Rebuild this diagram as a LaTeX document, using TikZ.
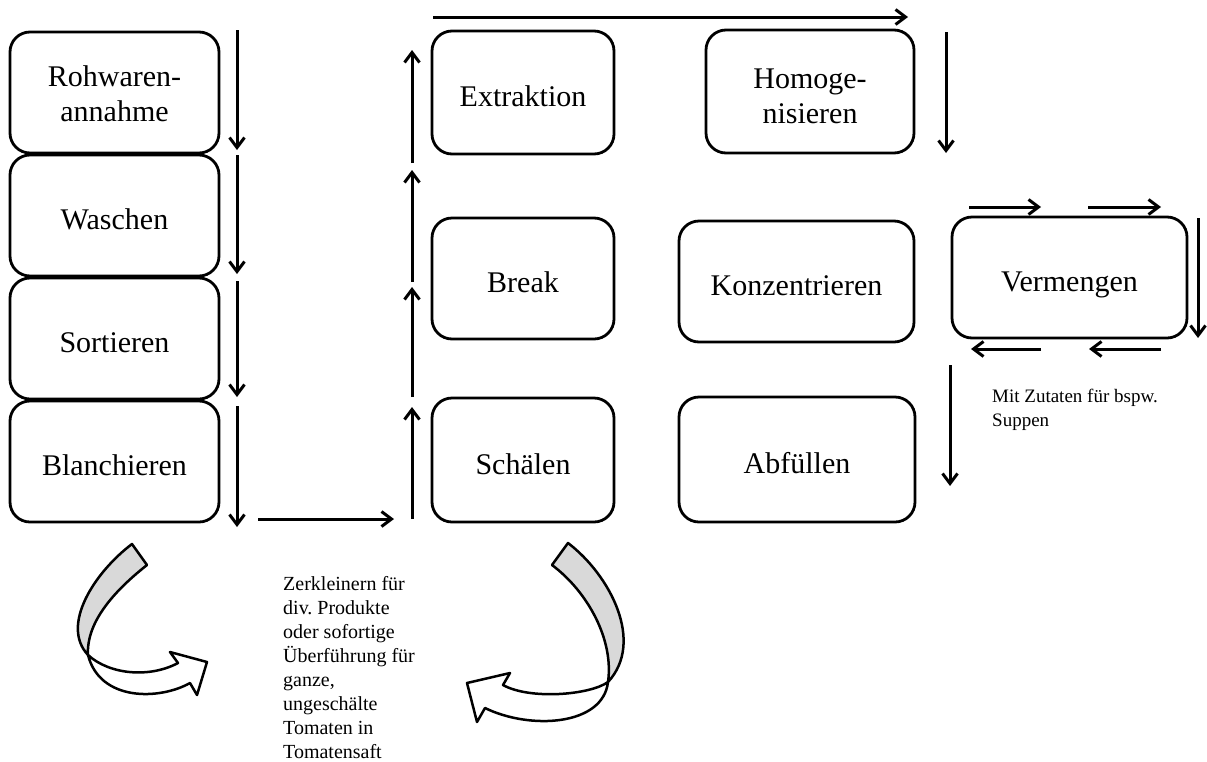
\documentclass[tikz,border=0pt]{standalone}
\usepackage{fontspec}
\setmainfont{Liberation Serif}
\usetikzlibrary{arrows.meta}
\frenchspacing
\begin{document}
\begin{tikzpicture}[x=1pt,y=-1pt,
  box/.style={draw, line width=2.8pt, rounded corners=20pt, inner sep=2pt,
    font=\fontsize{30}{35}\selectfont, align=center},
  one/.style={text height=31pt, text depth=3pt},
  flow/.style={line width=3pt, -{Straight Barb[length=10pt,width=15pt]}},
  ribbon/.style={draw, line width=2.5pt, line join=round},
  note/.style={anchor=north west, inner sep=0pt, align=left}]
\useasboundingbox (0,0) rectangle (1207,761);

% boxes
\node[box, minimum width=209pt, minimum height=121pt] (roh) at (114.5,92.5) {\rule{0pt}{24pt}Rohwaren-\\annahme};
\node[box, one, minimum width=209pt, minimum height=121pt] (wasch) at (114.5,215.5) {Waschen};
\node[box, one, minimum width=209pt, minimum height=121pt] (sort) at (114.5,338.5) {Sortieren};
\node[box, one, minimum width=209pt, minimum height=121pt] (blan) at (114.5,461.5) {Blanchieren};
\node[box, one, minimum width=182pt, minimum height=123pt] (extr) at (523,92.5) {Extraktion};
\node[box, one, minimum width=182pt, minimum height=121pt] (break) at (523,278.5) {Break};
\node[box, one, minimum width=182pt, minimum height=124pt] (schael) at (523,460) {Schälen};
\node[box, minimum width=208pt, minimum height=123pt] (homo) at (810,91.5) {\rule{0pt}{29pt}Homoge-\\nisieren};
\node[box, one, minimum width=235pt, minimum height=121pt] (konz) at (796.5,281.5) {Konzentrieren};
\node[box, one, minimum width=236pt, minimum height=125pt] (abf) at (797,459.5) {Abfüllen};
\node[box, one, minimum width=235pt, minimum height=121pt] (verm) at (1069.5,277.5) {Vermengen};

% arrow end points
\coordinate (l1a) at (237,30);  \coordinate (l1b) at (237,150);
\coordinate (l2a) at (237,155); \coordinate (l2b) at (237,274);
\coordinate (l3a) at (237,281); \coordinate (l3b) at (237,397);
\coordinate (l4a) at (237,406); \coordinate (l4b) at (237,527);
\coordinate (h1a) at (258,519); \coordinate (h1b) at (394,519);
\coordinate (m1a) at (412,519); \coordinate (m1b) at (412,407);
\coordinate (m2a) at (412,397); \coordinate (m2b) at (412,287);
\coordinate (m3a) at (412,282); \coordinate (m3b) at (412,170);
\coordinate (m4a) at (412,163); \coordinate (m4b) at (412,50);
\coordinate (t1a) at (433,17);  \coordinate (t1b) at (908,17);
\coordinate (r1a) at (946,32);  \coordinate (r1b) at (946,153);
\coordinate (v1a) at (969,207); \coordinate (v1b) at (1041,207);
\coordinate (v2a) at (1088,207); \coordinate (v2b) at (1161,207);
\coordinate (v3a) at (1198,218); \coordinate (v3b) at (1198,338);
\coordinate (v4a) at (1161,349); \coordinate (v4b) at (1089,349);
\coordinate (v5a) at (1041,349); \coordinate (v5b) at (971,349);
\coordinate (d1a) at (950,365); \coordinate (d1b) at (950,486);

\foreach \a in {l1,l2,l3,l4,h1,m1,m2,m3,m4,t1,r1,v1,v2,v3,v4,v5,d1}
  \draw[flow] (\a a) -- (\a b);

% curved ribbon arrows
\filldraw[ribbon, fill=black!15] (132,544) .. controls (95,572) and (60,625) .. (88,655)
  .. controls (86,620) and (118,588) .. (147,565) -- cycle;
\filldraw[ribbon, fill=white] (88,655) .. controls (110,675) and (150,678) .. (178,663)
  -- (170,652) -- (207,662) -- (197,695) -- (190,683)
  .. controls (160,700) and (100,702) .. (88,655) -- cycle;

\filldraw[ribbon, fill=black!15] (568,543) .. controls (610,575) and (645,642) .. (608,682)
  .. controls (614,640) and (588,592) .. (552,565) -- cycle;
\filldraw[ribbon, fill=white] (608,682) .. controls (590,695) and (530,700) .. (503,685)
  -- (510,673) -- (467,683) -- (477,722) -- (485,708)
  .. controls (530,730) and (603,726) .. (608,682) -- cycle;

% notes
\node[note, font=\fontsize{20}{24}\selectfont] (txt1) at (283,576)
  {Zerkleinern für\\div. Produkte\\oder sofortige\\Überführung für\\ganze,\\ungeschälte\\Tomaten in\\Tomatensaft};
\node[note, font=\fontsize{19}{24}\selectfont] (txt2) at (992,389)
  {Mit Zutaten für bspw.\\Suppen};
\end{tikzpicture}
\end{document}
